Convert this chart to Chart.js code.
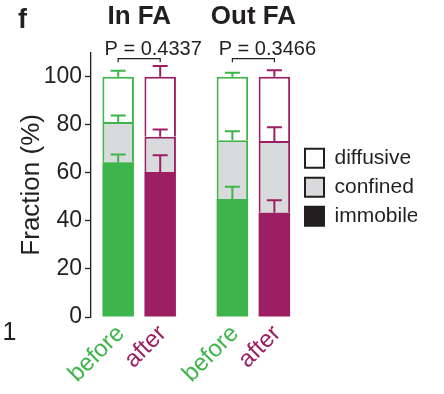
<!DOCTYPE html>
<html><head><meta charset="utf-8">
<script src="https://cdn.jsdelivr.net/npm/chart.js@4.4.1/dist/chart.umd.min.js"></script>
<style>html,body{margin:0;padding:0;background:#fff}#wrap{width:444px;height:394px;position:relative}</style>
</head><body><div id="wrap"><canvas id="c"></canvas></div>
<script>
// ---- data ----
const categories = ['In FA', 'Out FA'];
const conditions = ['before', 'after'];
const immobileBefore = [64.4, 49.1];
const confinedBefore = [16.8, 24.5];
const diffusiveBefore = [18.8, 26.4];
const immobileAfter = [60.3, 43.4];
const confinedAfter = [14.7, 29.8];
const diffusiveAfter = [25.0, 26.8];
const immobileBeforeErr = [3.2, 5.1];
const confinedBeforeErr = [2.7, 3.7];
const diffusiveBeforeErr = [2.5, 1.7];
const immobileAfterErr = [7.0, 5.2];
const confinedAfterErr = [3.0, 5.8];
const diffusiveAfterErr = [4.5, 2.7];
const pValues = ['P = 0.4337', 'P = 0.3466'];
const legendLabels = ['diffusive', 'confined', 'immobile'];
const panelLetter = 'f';
const neighbourTick = '1';

// ---- styles ----
const GREEN = '#3db54a', PURPLE = '#9c1e63', GRAY = '#d9dadb', INK = '#231f20';
const FONT = '"Liberation Sans", Arial, Helvetica, sans-serif';
const condColors = { before: GREEN, after: PURPLE };

function seg(label, stack, values, errors, bg, bw) {
  return {
    label, stack,
    data: values.map((v, i) => ({ x: i, y: v })),
    errors,
    backgroundColor: bg,
    borderColor: condColors[stack],
    borderWidth: bw,
    borderSkipped: 'start',
    categoryPercentage: 0.7356,
    barPercentage: 0.75
  };
}

const datasets = [
  seg('immobile', 'before', immobileBefore, immobileBeforeErr, GREEN, 0),
  seg('confined', 'before', confinedBefore, confinedBeforeErr, GRAY, 2),
  seg('diffusive', 'before', diffusiveBefore, diffusiveBeforeErr, '#ffffff', 2),
  seg('immobile', 'after', immobileAfter, immobileAfterErr, PURPLE, 0),
  seg('confined', 'after', confinedAfter, confinedAfterErr, GRAY, 2),
  seg('diffusive', 'after', diffusiveAfter, diffusiveAfterErr, '#ffffff', 2)
];

const legendFills = { diffusive: '#ffffff', confined: GRAY, immobile: INK };

const errorBars = {
  id: 'errorBars',
  afterDatasetsDraw(chart) {
    const ctx = chart.ctx, y = chart.scales.y;
    ctx.save();
    ctx.lineWidth = 2;
    chart.data.datasets.forEach((ds, di) => {
      const meta = chart.getDatasetMeta(di);
      meta.data.forEach((el, i) => {
        const top = y.getPixelForValue(y.getValueForPixel(el.y) + ds.errors[i]);
        ctx.strokeStyle = condColors[ds.stack];
        ctx.beginPath();
        ctx.moveTo(el.x, el.y); ctx.lineTo(el.x, top);
        ctx.moveTo(el.x - 7.5, top); ctx.lineTo(el.x + 7.5, top);
        ctx.stroke();
      });
    });
    ctx.restore();
  }
};

const annotations = {
  id: 'annotations',
  afterDraw(chart) {
    const ctx = chart.ctx, x = chart.scales.x, area = chart.chartArea;
    ctx.save();
    ctx.fillStyle = INK;
    // group titles
    ctx.font = 'bold 26px ' + FONT;
    ctx.textAlign = 'center'; ctx.textBaseline = 'alphabetic';
    categories.forEach((c, i) => ctx.fillText(c, x.getPixelForValue(i), 24));
    // panel letter
    ctx.textAlign = 'left';
    ctx.font = 'bold 27px ' + FONT;
    ctx.fillText(panelLetter, 18, 28);
    ctx.font = '25px ' + FONT;
    ctx.textAlign = 'center';
    ctx.fillText(neighbourTick, 9.5, 340);
    // p-value brackets
    const beforeMeta = chart.getDatasetMeta(0), afterMeta = chart.getDatasetMeta(3);
    categories.forEach((c, i) => {
      const x1 = beforeMeta.data[i].x, x2 = afterMeta.data[i].x;
      const yb = area.top + 6;
      ctx.strokeStyle = INK; ctx.lineWidth = 1.2;
      ctx.beginPath();
      ctx.moveTo(x1, yb + 3.5); ctx.lineTo(x1, yb); ctx.lineTo(x2, yb); ctx.lineTo(x2, yb + 3.5);
      ctx.stroke();
      ctx.font = '20px ' + FONT;
      ctx.textAlign = 'center'; ctx.textBaseline = 'alphabetic';
      ctx.fillText(pValues[i], (x1 + x2) / 2 + 14, 55);
    });
    // rotated condition labels
    ctx.font = '24px ' + FONT;
    ctx.textAlign = 'right'; ctx.textBaseline = 'middle';
    [0, 3].forEach((di, k) => {
      const meta = chart.getDatasetMeta(di);
      meta.data.forEach(el => {
        ctx.save();
        ctx.translate(el.x + 2.5, area.bottom + 13);
        ctx.rotate(-Math.PI / 4);
        ctx.fillStyle = condColors[conditions[k]];
        ctx.fillText(conditions[k], 0, 0);
        ctx.restore();
      });
    });
    ctx.restore();
  }
};

new Chart(document.getElementById('c'), {
  type: 'bar',
  data: { datasets },
  plugins: [errorBars, annotations],
  options: {
    responsive: true,
    maintainAspectRatio: false,
    animation: false,
    devicePixelRatio: 1,
    layout: { padding: { left: 0, right: 27, top: 52.7, bottom: 77 } },
    plugins: {
      tooltip: { enabled: false },
      legend: {
        position: 'right',
        maxWidth: 120,
        title: { display: true, text: ' ', padding: 0, font: { size: 4, lineHeight: 1.25 } },
        labels: {
          boxWidth: 19, boxHeight: 19, padding: 8,
          color: INK,
          font: { size: 21, family: FONT },
          generateLabels: () => legendLabels.map(t => ({
            text: t, fillStyle: legendFills[t], strokeStyle: INK, lineWidth: 2, hidden: false, fontColor: INK
          }))
        },
        onClick: () => {}
      }
    },
    scales: {
      x: {
        type: 'linear', stacked: true, display: false, offset: false,
        min: -0.422, max: 1.382,
        afterBuildTicks: s => { s.ticks = categories.map((_, i) => ({ value: i })); }
      },
      y: {
        stacked: true, min: 0, max: 110,
        afterFit: s => { s.width = 91; },
        border: { color: INK, width: 1.3 },
        grid: {
          drawOnChartArea: false, tickLength: 6, tickWidth: 1.3,
          tickColor: c => (c.tick && c.tick.value > 100) ? 'rgba(0,0,0,0)' : INK
        },
        ticks: {
          stepSize: 10, padding: 3, color: INK,
          font: { size: 23, family: FONT },
          callback: v => (v % 20 === 0 && v <= 100) ? String(v) : ''
        },
        title: {
          display: true, text: 'Fraction (%)', color: INK,
          font: { size: 26, family: FONT },
          padding: { top: 16, bottom: 0 }
        }
      }
    }
  }
});
</script>
</body></html>
